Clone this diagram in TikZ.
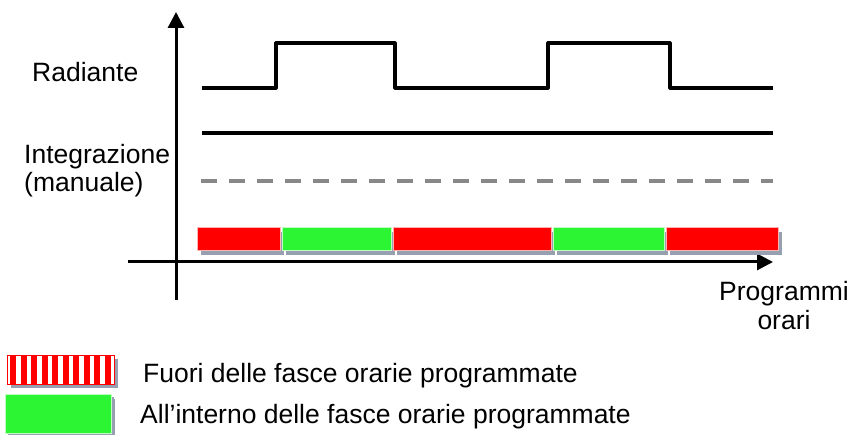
\documentclass[tikz,border=0pt]{standalone}
\usepackage{fontspec}
\setmainfont{Liberation Sans}
\usetikzlibrary{arrows.meta, shadows}

\definecolor{barred}{RGB}{255,0,0}
\definecolor{bargreen}{RGB}{44,245,52}
\definecolor{shadowgray}{RGB}{150,160,176}
\definecolor{dashgray}{RGB}{136,136,136}

\begin{document}
\begin{tikzpicture}[x=1pt, y=-1pt,
    label/.style={inner sep=0pt, font=\fontsize{26.5}{30}\selectfont},
    bar/.style={rectangle, inner sep=0pt, minimum height=23pt, draw=white!70!#1, line width=0.8pt, fill=#1,
                drop shadow={shadow xshift=4pt, shadow yshift=-5pt, fill=shadowgray, opacity=1}},
    signal/.style={line width=3.2pt, line join=round},
    axis/.style={line width=3pt, -{Triangle[length=16pt, width=16pt]}}]
\useasboundingbox (0,0) rectangle (853,435);

% axes
\coordinate (ybot) at (176,300);
\coordinate (ytop) at (176,12);
\coordinate (xleft) at (128,262);
\coordinate (xright) at (773,262);
\path [axis] (ybot) edge (ytop);
\path [axis] (xleft) edge (xright);

% signals
\draw [signal] (202,88) -- (276,88) -- (276,43) -- (395,43) -- (395,88) -- (548,88)
               -- (548,43) -- (670,43) -- (670,88) -- (773,88);
\draw [signal] (202,133) -- (773,133);
\draw [signal, dashgray, line width=3.5pt, dash pattern=on 16pt off 12pt, line join=miter] (201,181) -- (773,181);

% time bands
\foreach \name/\xa/\xb/\col in {r1/197/280/barred, g1/282/391/bargreen, r2/393/551/barred,
                                g2/553/664/bargreen, r3/666/778/barred}
    \node [bar=\col, minimum width={(\xb-\xa)*1pt}] (\name) at ({(\xa+\xb)/2}, 238.5) {};

% labels
\node [label, anchor=base west] (rad) at (32,82) {Radiante};
\node [label, anchor=base west] (integ) at (24,164) {Integrazione};
\node [label, anchor=base west] (man) at (24,192) {(manuale)};
\node [label, anchor=base] (prog) at (784,301) {Programmi};
\node [label, anchor=base] (orari) at (784,329) {orari};

% legend
\node [rectangle, inner sep=0pt, minimum width=107pt, minimum height=29pt, fill=white, draw=barred, line width=0.8pt,
       drop shadow={shadow xshift=4pt, shadow yshift=-4pt, fill=shadowgray, opacity=1},
       path picture={\foreach \i in {0,...,9}
           \fill [barred] ([xshift=3pt+\i*10.5pt]path picture bounding box.south west)
               rectangle ([xshift=9pt+\i*10.5pt]path picture bounding box.north west);}]
    (legout) at (60.5,369.5) {};
\node [bar=bargreen, minimum width=106pt, minimum height=39pt,
       drop shadow={shadow xshift=3pt, shadow yshift=-3pt, fill=shadowgray, opacity=1}] (legin) at (58,413.5) {};
\node [label, anchor=base west] (txtout) at (143,382) {Fuori delle fasce orarie programmate};
\node [label, anchor=base west] (txtin) at (140,423) {All’interno delle fasce orarie programmate};
\end{tikzpicture}
\end{document}
